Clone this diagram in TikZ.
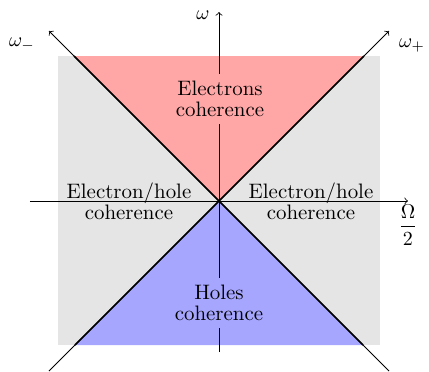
\documentclass[tikz,border=0pt]{standalone}
\begin{document}
\begin{tikzpicture}[x=0.5pt, y=0.5pt,
    every node/.style={font=\fontsize{10.45}{10.5}\selectfont}]
  \useasboundingbox (-219,-170) rectangle (210,201);

  % regione grigia
  \fill[gray!20] (-161,-144) rectangle (161,145);

  % coni elettroni / lacune
  \fill[red!35] (0,0) -- (-145,145) -- (145,145) -- cycle;
  \fill[blue!35] (0,0) -- (-144,-144) -- (144,-144) -- cycle;

  % punti degli assi
  \coordinate (O) at (0,0);
  \coordinate (xL) at (-189,0);
  \coordinate (xR) at (189,0);
  \coordinate (yB) at (0,-151);
  \coordinate (yT) at (0,189);
  \coordinate (pTR) at (170,170);
  \coordinate (pTL) at (-170,170);
  \coordinate (pBR) at (170,-170);
  \coordinate (pBL) at (-170,-170);

  % assi
  \draw[->] (xL) -- (xR);
  \draw[->] (yB) -- (yT);
  \draw[->] (pBL) -- (pTR);
  \draw[->] (pBR) -- (pTL);

  % bordi dei coni
  \draw[thick] (-145,145) -- (O) -- (145,145);
  \draw[thick] (-144,-144) -- (O) -- (144,-144);

  % etichette assi
  \node (w) at (-16,186) {$\omega$};
  \node (wp) at (193,155) {$\omega_+$};
  \node (wm) at (-197,156) {$\omega_-$};
  \node (W) at (189,-24) {$\displaystyle\frac{\Omega}{2}$};

  % etichette regioni
  \node[fill=red!35, align=center] (el) at (1,102) {Electrons\\coherence};
  \node[fill=blue!35, align=center] (ho) at (0,-102) {Holes\\coherence};
  \node[align=center] (ehL) at (-90,0) {Electron/hole\\coherence};
  \node[align=center] (ehR) at (92,0) {Electron/hole\\coherence};
\end{tikzpicture}
\end{document}
